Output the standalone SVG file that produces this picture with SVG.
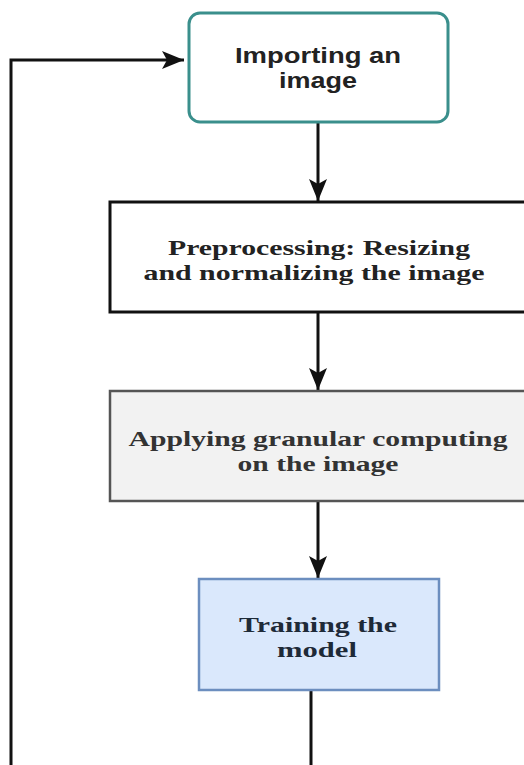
<svg xmlns="http://www.w3.org/2000/svg" width="524" height="765" viewBox="0 0 524 765">
<style>
.sans{font-family:"Liberation Sans",Arial,sans-serif;font-weight:bold;font-size:22px;fill:#222}
.serif{font-family:"Liberation Serif","Times New Roman",serif;font-weight:bold;font-size:22px;fill:#222}
.conn{fill:none;stroke:#111;stroke-width:3}
</style>
<defs>
<marker id="arrow" markerUnits="userSpaceOnUse" markerWidth="24" markerHeight="20" refX="22" refY="10" orient="auto" viewBox="0 0 24 20">
<path d="M0,1 L22,10 L0,19 L5,10 Z" fill="#111"/>
</marker>
</defs>
<rect width="524" height="765" fill="#fff"/>
<g id="connectors">
<path class="conn" d="M318,122 V201" marker-end="url(#arrow)"/>
<path class="conn" d="M318,312 V390" marker-end="url(#arrow)"/>
<path class="conn" d="M318,502 V578" marker-end="url(#arrow)"/>
<path class="conn" d="M311,690 V765"/>
<path class="conn" d="M11,765 V60 H184" marker-end="url(#arrow)"/>
</g>
<g id="node-import">
<rect x="189" y="13" width="259" height="109" rx="11" fill="#fff" stroke="#3a8f8c" stroke-width="3"/>
<text class="sans" x="318" y="63" text-anchor="middle" textLength="166" lengthAdjust="spacingAndGlyphs">Importing an</text>
<text class="sans" x="318" y="88" text-anchor="middle" textLength="78" lengthAdjust="spacingAndGlyphs">image</text>
</g>
<g id="node-preprocess">
<rect x="110" y="202" width="420" height="110" fill="#fff" stroke="#111" stroke-width="3"/>
<text class="serif" x="319" y="255" text-anchor="middle" textLength="302" lengthAdjust="spacingAndGlyphs">Preprocessing: Resizing</text>
<text class="serif" x="314" y="280" text-anchor="middle" textLength="341" lengthAdjust="spacingAndGlyphs">and normalizing the image</text>
</g>
<g id="node-granular">
<rect x="110" y="391" width="420" height="110" fill="#f2f2f2" stroke="#555" stroke-width="2.5"/>
<text class="serif" x="318" y="446" text-anchor="middle" textLength="379" lengthAdjust="spacingAndGlyphs" style="fill:#333">Applying granular computing</text>
<text class="serif" x="318" y="471" text-anchor="middle" textLength="161" lengthAdjust="spacingAndGlyphs" style="fill:#333">on the image</text>
</g>
<g id="node-training">
<rect x="199" y="579" width="240" height="111" fill="#dae8fc" stroke="#6c8ebf" stroke-width="2.5"/>
<text class="serif" x="318" y="632" text-anchor="middle" textLength="158" lengthAdjust="spacingAndGlyphs" style="fill:#1e2a38">Training the</text>
<text class="serif" x="317" y="657" text-anchor="middle" textLength="80" lengthAdjust="spacingAndGlyphs" style="fill:#1e2a38">model</text>
</g>
</svg>
